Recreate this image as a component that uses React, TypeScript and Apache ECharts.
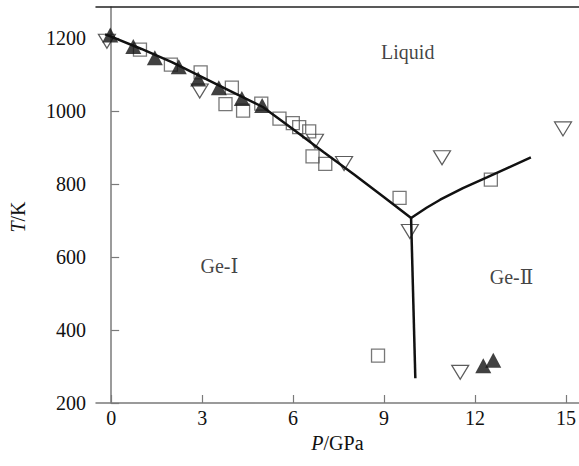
import React, { useEffect, useRef } from "react";
import * as echarts from "echarts";

// Experimental points: [P (GPa), T (K)]
const squarePoints: number[][] = [
  [0.95, 1168], [1.97, 1127], [2.95, 1106], [3.98, 1064], [3.77, 1019],
  [4.35, 1001], [4.95, 1020], [5.55, 979], [5.99, 967], [6.2, 956],
  [6.53, 944], [6.64, 876], [7.06, 855], [9.51, 762], [12.52, 812], [8.8, 330],
];
const filledTrianglePoints: number[][] = [
  [-0.03, 1208], [0.73, 1177], [1.44, 1146], [2.23, 1121], [2.87, 1088],
  [3.55, 1064], [4.31, 1034], [4.98, 1015], [12.27, 302], [12.6, 317],
];
const openTrianglePoints: number[][] = [
  [-0.14, 1191], [2.92, 1055], [6.72, 917], [7.68, 856], [9.85, 670],
  [10.91, 872], [14.9, 951], [11.51, 284],
];

// Phase boundaries
const meltingGeI: number[][] = [
  [-0.2, 1210], [0, 1204], [1, 1170], [2, 1134], [3, 1093], [4, 1052],
  [5, 1011], [6, 950], [7, 888], [8, 827], [9, 764], [9.89, 707],
];
const meltingGeII: number[][] = [
  [9.89, 707], [10.4, 735], [10.85, 757], [11.6, 789], [12.39, 818], [13.1, 845], [13.84, 873],
];
const boundaryI_II: number[][] = [[9.89, 707], [10.03, 268]];

// Region labels
const regionLabels: { name: string; value: number[] }[] = [
  { name: "Liquid", value: [9.78, 1163] },
  { name: "Ge-Ⅰ", value: [3.57, 574] },
  { name: "Ge-Ⅱ", value: [13.2, 545] },
];

const xTicks = [0, 3, 6, 9, 12, 15];
const yTicks = [200, 400, 600, 800, 1000, 1200];

const FONT = "'Liberation Serif', 'Times New Roman', 'DejaVu Serif', serif";

export default function App() {
  const ref = useRef<HTMLDivElement>(null);
  useEffect(() => {
    if (!ref.current) return;
    const chart = echarts.init(ref.current, undefined, { renderer: "svg" });
    const axisGray = "#7a7a7a";
    chart.setOption({
      animation: false,
      backgroundColor: "#ffffff",
      textStyle: { fontFamily: FONT },
      grid: { left: 94, right: 0, top: 7, bottom: 63, containLabel: false },
      xAxis: [
        {
          type: "value",
          min: -0.5,
          max: 15.42,
          name: "{i|P}/GPa",
          nameLocation: "middle",
          nameGap: 30,
          nameTextStyle: {
            fontFamily: FONT,
            fontSize: 20,
            color: "#111",
            rich: { i: { fontStyle: "italic", fontFamily: FONT, fontSize: 20, color: "#111" } },
          },
          axisLine: { show: true, lineStyle: { color: axisGray, width: 1.5 } },
          axisTick: { show: true, inside: true, length: 8, customValues: xTicks, lineStyle: { color: axisGray, width: 1.2 } },
          axisLabel: {
            show: true,
            customValues: xTicks,
            margin: 5,
            fontSize: 20,
            color: "#111",
            fontFamily: FONT,
            formatter: (v: number) => String(v),
          },
          splitLine: { show: false },
        },
        {
          type: "value",
          position: "top",
          min: -0.5,
          max: 15.42,
          axisLine: { show: true, onZero: false, lineStyle: { color: "#222", width: 1.5 } },
          axisTick: { show: false },
          axisLabel: { show: false },
          splitLine: { show: false },
        },
      ],
      yAxis: {
        type: "value",
        min: 200,
        max: 1285,
        name: "{i|T}/K",
        nameLocation: "middle",
        nameRotate: 90,
        nameGap: 68,
        nameTextStyle: {
          fontFamily: FONT,
          fontSize: 20,
          color: "#111",
          padding: [0, 24, 0, 0],
          rich: { i: { fontStyle: "italic", fontFamily: FONT, fontSize: 20, color: "#111" } },
        },
        axisLine: { show: true, lineStyle: { color: axisGray, width: 1.5 } },
        axisTick: { show: true, inside: true, length: 8, customValues: yTicks, lineStyle: { color: axisGray, width: 1.2 } },
        axisLabel: {
          show: true,
          customValues: yTicks,
          margin: 10,
          fontSize: 20,
          color: "#111",
          fontFamily: FONT,
          formatter: (v: number) => String(v),
        },
        splitLine: { show: false },
      },
      series: [
        {
          type: "scatter",
          data: squarePoints,
          symbol: "rect",
          symbolSize: 13,
          itemStyle: { color: "rgba(255,255,255,0)", borderColor: "#555", borderWidth: 1.3 },
          z: 2,
        },
        {
          type: "scatter",
          data: openTrianglePoints,
          symbol: "triangle",
          symbolRotate: 180,
          symbolSize: [17, 14],
          itemStyle: { color: "rgba(255,255,255,0)", borderColor: "#333", borderWidth: 1.2 },
          z: 3,
        },
        {
          type: "line",
          data: meltingGeI,
          showSymbol: false,
          symbol: "none",
          lineStyle: { color: "#111", width: 2.5 },
          z: 4,
        },
        {
          type: "line",
          data: meltingGeII,
          showSymbol: false,
          symbol: "none",
          lineStyle: { color: "#111", width: 2.5 },
          z: 4,
        },
        {
          type: "line",
          data: boundaryI_II,
          showSymbol: false,
          symbol: "none",
          lineStyle: { color: "#111", width: 2.5 },
          z: 4,
        },
        {
          type: "scatter",
          data: filledTrianglePoints,
          symbol: "triangle",
          symbolSize: [16, 15],
          itemStyle: { color: "#111" },
          z: 5,
        },
        {
          type: "scatter",
          data: regionLabels,
          symbolSize: 0,
          label: {
            show: true,
            position: "inside",
            formatter: (p: any) => p.name,
            fontSize: 20,
            color: "#111",
            fontFamily: FONT,
          },
          z: 6,
        },
      ],
    });
    return () => chart.dispose();
  }, []);
  return (
    <div
      ref={ref}
      style={{ position: "absolute", left: 0, top: 0, width: 579, height: 466 }}
    />
  );
}
